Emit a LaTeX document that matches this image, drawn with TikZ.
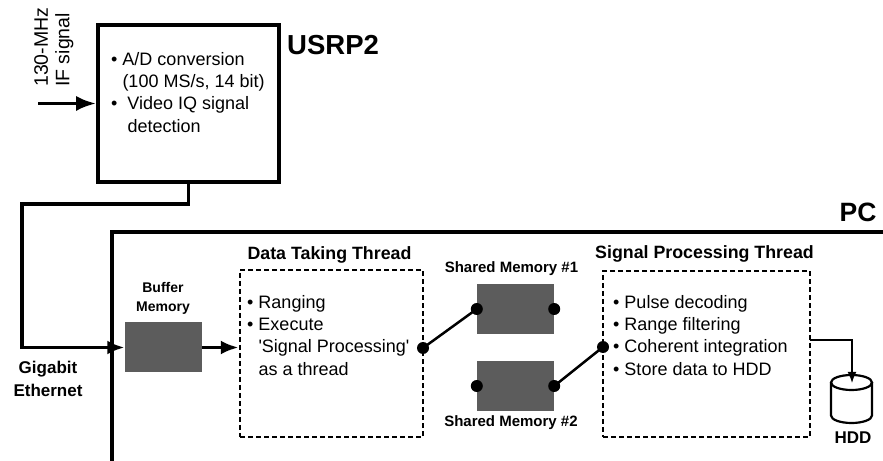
\documentclass[tikz,border=0pt]{standalone}
\usepackage{fontspec}
\setmainfont{Liberation Sans}
\usetikzlibrary{arrows.meta}
\definecolor{memgray}{HTML}{5C5C5C}
\begin{document}
\begin{tikzpicture}[x=1bp,y=-1bp,
  thickline/.style={line width=3.6bp},
  boxsolid/.style={draw, line width=3.6bp, inner sep=0pt},
  dbox/.style={draw, line width=2.5bp, dash pattern=on 5bp off 3bp, inner sep=0pt},
  membox/.style={fill=memgray, draw=none, minimum width=77bp, minimum height=50bp, inner sep=0pt},
  body/.style={font=\fontsize{18bp}{22.3bp}\selectfont, align=left, inner sep=0pt},
  titlefont/.style={font=\bfseries\fontsize{17.8bp}{21bp}\selectfont, inner sep=0pt},
  smallbold/.style={font=\bfseries\fontsize{15bp}{18bp}\selectfont, inner sep=0pt},
  link/.style={line width=2.5bp},
  dot/.style={fill=black},
]
\useasboundingbox (0,0) rectangle (883,461);

% USRP2
\node[boxsolid, minimum width=181bp, minimum height=157bp] (usrp) at (188.5,103.5) {};
\node[anchor=west, font=\bfseries\fontsize{27.5bp}{30bp}\selectfont, inner sep=0pt] (usrplbl) at (287,45) {USRP2};
\node[body, anchor=north west] (usrptxt) at (111,52)
  {•\ A/D conversion\\\hphantom{•\ }(100 MS/s, 14 bit)\\•\ \ Video IQ signal\\\hphantom{•\ \ }detection};
\node[font=\fontsize{19.5bp}{21.5bp}\selectfont, align=left, inner sep=0pt, rotate=90, anchor=north west] (iflbl) at (34,87) {130-MHz\\IF signal};
\coordinate (inp) at (38,103.5);
\draw[thickline, -{Latex[length=20bp,width=15bp]}] (inp) -- (usrp.west);

% PC frame
\draw[thickline] (883,232) -- (112,232) -- (112,461);
\node[font=\bfseries\fontsize{26.5bp}{30bp}\selectfont, inner sep=0pt] (pclbl) at (858,212) {PC};

% Buffer memory
\node[membox] (buf) at (163,347.5) {};
\node[font=\bfseries\fontsize{14bp}{19bp}\selectfont, align=center, inner sep=0pt] (buflbl) at (163,298.5) {Buffer\\Memory};

% Ethernet
\coordinate (ethc) at (22,204);
\draw[thickline, -{Latex[length=17bp,width=14bp]}] (usrp.south) |- (ethc) |- (buf.west);
\node[font=\bfseries\fontsize{17bp}{23bp}\selectfont, align=center, inner sep=0pt] (gig) at (48,378.5) {Gigabit\\Ethernet};

% Data taking thread
\node[dbox, minimum width=183bp, minimum height=167bp] (dt) at (331.5,353.5) {};
\node[titlefont] (dtlbl) at (329.5,255) {Data Taking Thread};
\node[body, anchor=north west] (dttxt) at (247,295)
  {•\ Ranging\\•\ Execute\\\hphantom{•\ }\textquotesingle Signal Processing\textquotesingle\\\hphantom{•\ }as a thread};
\draw[thickline, -{Latex[length=18bp,width=14bp]}] (buf.east) -- (buf.east -| dt.west);

% Shared memories
\node[membox] (sm1) at (515.5,309) {};
\node[membox] (sm2) at (515.5,386) {};
\node[smallbold] (sm1lbl) at (511.5,269) {Shared Memory \#1};
\node[smallbold] (sm2lbl) at (511,423) {Shared Memory \#2};

% Signal processing thread
\node[dbox, minimum width=207bp, minimum height=166bp] (sp) at (706.5,354) {};
\node[titlefont] (splbl) at (704.5,254) {Signal Processing Thread};
\node[body, anchor=north west] (sptxt) at (613,295)
  {•\ Pulse decoding\\•\ Range filtering\\•\ Coherent integration\\•\ Store data to HDD};

% switch connections
\coordinate (dtout) at (423,348);
\coordinate (spin) at (603,347);
\draw[link] (dtout) -- (sm1.west);
\draw[link] (sm2.east) -- (spin);
\foreach \p in {dtout, sm1.west, sm1.east, sm2.west, sm2.east, spin}
  \fill[dot] (\p) circle (6bp);

% HDD
\draw[line width=2.2bp] (831,382.5) -- (831,415.5)
  arc[start angle=180, end angle=360, x radius=20.5bp, y radius=7.5bp] -- (872,382.5);
\draw[line width=2.2bp] (851.5,382.5) ellipse [x radius=20.5bp, y radius=7.5bp];
\coordinate (hddsrc) at (810,340);
\coordinate (hddin) at (852,383);
\draw[line width=1.6bp, -{Latex[length=11bp,width=9bp]}] (hddsrc) -| (hddin);
\node[font=\bfseries\fontsize{17bp}{20bp}\selectfont, inner sep=0pt] (hddlbl) at (853,438) {HDD};
\end{tikzpicture}
\end{document}
